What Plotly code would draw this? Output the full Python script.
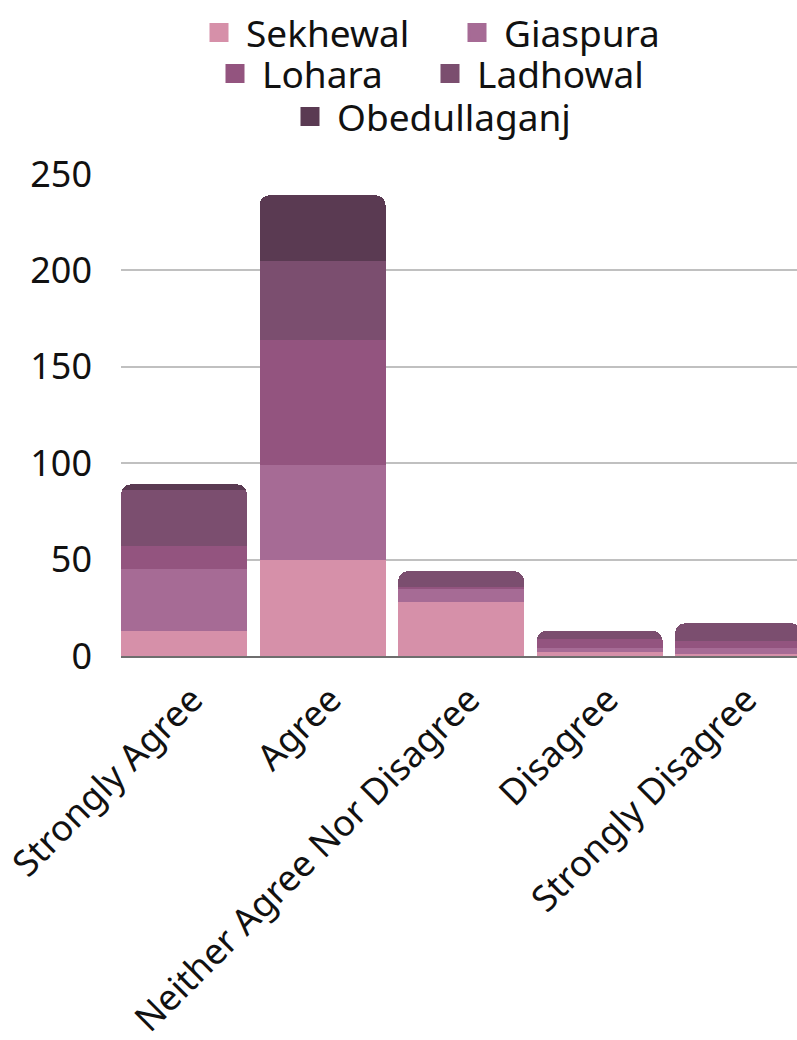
import plotly.graph_objects as go

# Survey responses by location, stacked per response category
categories = ["Strongly Agree", "Agree", "Neither Agree Nor Disagree", "Disagree", "Strongly Disagree"]
sekhewal = [13, 50, 28, 2, 1]
giaspura = [32, 49, 7, 2, 3]
lohara = [12, 65, 1, 5, 4]
ladhowal = [29, 41, 8, 4, 9]
obedullaganj = [3, 34, 0, 0, 0]

series_names = ["Sekhewal", "Giaspura", "Lohara", "Ladhowal", "Obedullaganj"]
series_values = [sekhewal, giaspura, lohara, ladhowal, obedullaganj]
colors = ["#D690A9", "#A66B95", "#93547F", "#7B4E6F", "#5A3A52"]

FONT = "Noto Sans"
FS = 36
LFS = 37
W, H = 797, 1040

# legend entry placement (left edge px, row centre px), one legend per entry
legend_ids = ["legend", "legend2", "legend3", "legend4", "legend5"]
legend_left = [192, 450, 208, 423, 283]
legend_mid = [33, 33, 74, 74, 117]

fig = go.Figure()

for name, vals, col in zip(series_names, series_values, colors):
    fig.add_trace(go.Bar(
        x=categories, y=vals, name=name, marker_color=col,
        marker_line_width=0, showlegend=False,
    ))

# legend entries with larger square swatches
for name, col, lg in zip(series_names, colors, legend_ids):
    fig.add_trace(go.Scatter(
        x=[None], y=[None], mode="markers", name=name, legend=lg,
        marker=dict(symbol="square", size=16, color=col,
                    line=dict(color=col, width=3)),
    ))

legend_common = dict(
    orientation="h", xref="container", yref="container",
    xanchor="left", yanchor="middle", itemwidth=44,
    font=dict(family=FONT, size=LFS, color="#111111"),
    bgcolor="rgba(0,0,0,0)", itemclick=False,
)
legends = {
    lg: dict(**legend_common, x=lx / W, y=1 - ly / H)
    for lg, lx, ly in zip(legend_ids, legend_left, legend_mid)
}

fig.update_layout(
    width=W, height=H,
    barmode="stack", bargap=0.09, barcornerradius=10,
    paper_bgcolor="white", plot_bgcolor="white",
    margin=dict(l=121, r=0, t=174, b=384, autoexpand=False),
    font=dict(family=FONT, size=FS, color="#111111"),
    **legends,
    xaxis=dict(
        range=[-0.455, 4.425], tickangle=-45, automargin=False,
        showgrid=False, showline=True, linecolor="#6E6E6E", linewidth=2,
        ticks="", ticklabelshift=8, ticklabelstandoff=6,
        tickfont=dict(family=FONT, size=FS, color="#111111"),
    ),
    yaxis=dict(
        range=[0, 250], tickvals=[0, 50, 100, 150, 200, 250],
        automargin=False,
        showgrid=True, gridcolor="#C0C0C0", gridwidth=2,
        zeroline=False, showline=False, ticks="",
        ticklabelstandoff=28,
        tickfont=dict(family=FONT, size=FS, color="#111111"),
    ),
)

fig.write_html("out.html")
